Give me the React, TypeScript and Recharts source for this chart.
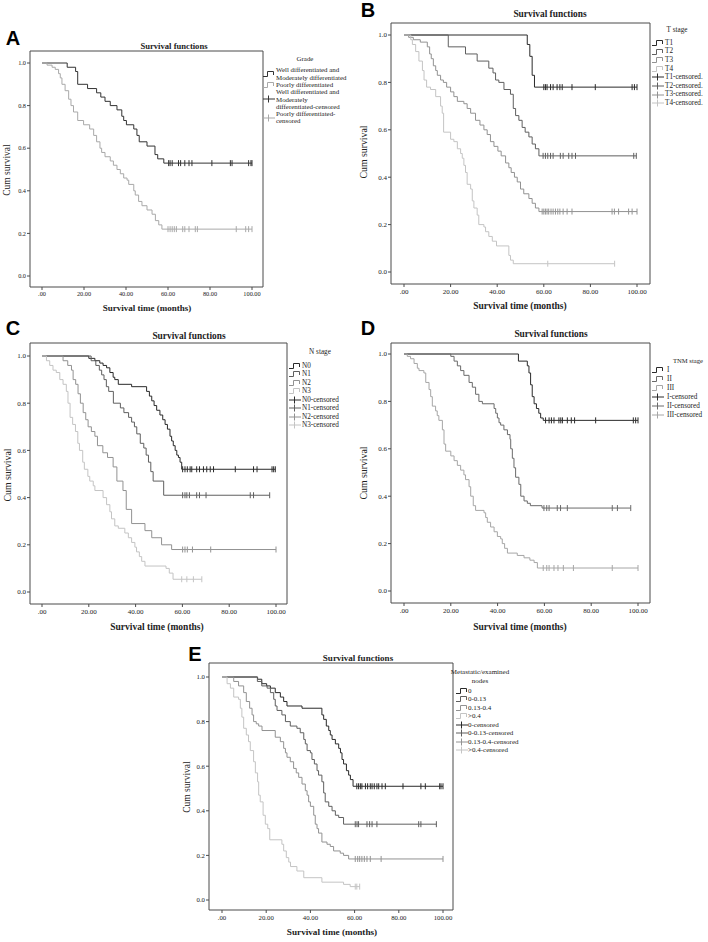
import React from 'react';
import { LineChart, Line, XAxis, YAxis, ReferenceArea } from 'recharts';

// ---------- Panel A: Grade ----------
const gradeNames = ['Well differentiated and Moderately differentiated', 'Poorly differentiated'];
const gradeWellT = [0, 12, 16, 17, 21.7, 26, 28, 30, 32.5, 35.7, 38, 38.9, 40.2, 43.7, 45.2, 46.3, 50, 53.8, 55.1, 58];
const gradeWellS = [1, 0.98, 0.96, 0.9, 0.88, 0.86, 0.84, 0.82, 0.8, 0.78, 0.75, 0.73, 0.71, 0.69, 0.66, 0.63, 0.61, 0.57, 0.55, 0.53];
const gradeWellCens = [60.3, 61, 62, 65, 66, 68, 70, 71.4, 80.9, 89.7, 90.5, 98.4, 99.5, 100];
const gradePoorT = [0, 2.4, 4.8, 6.3, 7.9, 8.7, 9.5, 11, 12.7, 13.8, 15, 17, 19.8, 22.7, 24.6, 26, 27.6, 28.4, 30, 32.5, 34, 35.7, 37.3, 38.9, 40.5, 41.3, 43.7, 44.4, 46, 47.6, 50, 52.4, 54, 55.6, 57.1];
const gradePoorS = [1, 0.99, 0.98, 0.97, 0.95, 0.93, 0.9, 0.87, 0.83, 0.8, 0.77, 0.73, 0.71, 0.69, 0.66, 0.63, 0.6, 0.58, 0.56, 0.54, 0.52, 0.5, 0.48, 0.46, 0.45, 0.43, 0.4, 0.38, 0.35, 0.33, 0.31, 0.29, 0.26, 0.24, 0.22];
const gradePoorCens = [60, 61, 62, 63, 64, 67, 68, 70, 73, 74, 92.5, 97, 98.4, 100];
const gradeLegend = [
  ['Well differentiated and', 'Moderately differentiated'],
  ['Poorly differentiated'],
  ['Well differentiated and', 'Moderately', 'differentiated-censored'],
  ['Poorly differentiated-', 'censored'],
];

// ---------- Panel B: T stage ----------
const tNames = ['T1', 'T2', 'T3', 'T4'];
const t1T = [0, 52.9, 54, 55, 56];
const t1S = [1, 0.96, 0.91, 0.83, 0.78];
const t1Cens = [60, 60.7, 61.4, 62.9, 64, 65.7, 66.9, 67.9, 72.1, 82.1, 97.9, 98.9, 100];
const t2T = [0, 19, 26.4, 31.4, 36.4, 38.2, 39.3, 40.7, 42.9, 45.7, 46.9, 47.9, 49.3, 50.7, 52, 53.6, 55, 56.4, 57.9];
const t2S = [1, 0.95, 0.92, 0.89, 0.86, 0.84, 0.81, 0.8, 0.77, 0.75, 0.69, 0.66, 0.64, 0.61, 0.59, 0.57, 0.54, 0.52, 0.49];
const t2Cens = [59.7, 60.7, 61.7, 62.9, 64, 67.1, 68.3, 70.7, 72.1, 73.6, 98.6, 99.7];
const t3T = [0, 2, 4, 7, 10, 11, 11.7, 12.6, 13.6, 14.3, 15.7, 16.9, 18.3, 20, 21.4, 22.9, 25.7, 27.1, 28.6, 30.7, 32.6, 34.3, 35.7, 37.1, 38.6, 40.3, 41.7, 43.6, 45, 46, 47.4, 48.6, 50, 51.4, 53.6, 55, 56.4, 57.9];
const t3S = [1, 0.99, 0.98, 0.97, 0.95, 0.92, 0.9, 0.87, 0.85, 0.83, 0.81, 0.8, 0.78, 0.76, 0.74, 0.72, 0.71, 0.69, 0.67, 0.64, 0.62, 0.6, 0.58, 0.55, 0.53, 0.51, 0.49, 0.46, 0.44, 0.42, 0.4, 0.38, 0.35, 0.33, 0.31, 0.29, 0.27, 0.255];
const t3Cens = [59.3, 60, 60.7, 61.4, 62.1, 63.1, 64, 65, 66, 66.9, 68.3, 70, 72.1, 89.3, 90.3, 92.1, 96.4, 97.9, 100];
const t4T = [0, 2.9, 3.6, 5, 6.4, 7.9, 8.6, 9.7, 11.4, 13.6, 15.7, 16.4, 17, 20, 21.4, 22.9, 24.3, 25, 25.7, 26.4, 27.1, 28.6, 29.3, 30, 31.4, 32.1, 34.3, 35, 36.4, 37.9, 39.7, 45, 45.7, 46.9];
const t4S = [1, 0.98, 0.96, 0.93, 0.89, 0.85, 0.81, 0.78, 0.77, 0.74, 0.7, 0.67, 0.59, 0.56, 0.55, 0.52, 0.5, 0.48, 0.45, 0.42, 0.37, 0.35, 0.3, 0.27, 0.24, 0.2, 0.19, 0.17, 0.15, 0.13, 0.11, 0.07, 0.05, 0.035];
const t4Cens = [61.7, 90.4];
const tLegend = [['T1'], ['T2'], ['T3'], ['T4'], ['T1-censored.'], ['T2-censored.'], ['T3-censored.'], ['T4-censored.']];

// ---------- Panel C: N stage ----------
const nNames = ['N0', 'N1', 'N2', 'N3'];
const n0T = [0, 20, 22.6, 24.7, 26.1, 27.6, 29, 30.4, 31.1, 32.6, 38.3, 44.7, 45.9, 46.9, 47.9, 49, 50.4, 51.6, 52.6, 53.6, 54.7, 55.4, 56.1, 56.9, 57.6, 58.3, 59, 59.7];
const n0S = [1, 0.99, 0.98, 0.97, 0.96, 0.95, 0.93, 0.91, 0.9, 0.88, 0.87, 0.85, 0.83, 0.81, 0.79, 0.77, 0.75, 0.73, 0.71, 0.69, 0.66, 0.64, 0.62, 0.6, 0.58, 0.57, 0.55, 0.52];
const n0Cens = [60.1, 61.1, 62.1, 63.3, 64, 66.1, 67.3, 69, 70.4, 71.9, 73.3, 82.6, 90.4, 91.9, 98.3, 99, 99.7];
const n1T = [0, 21, 23, 24.5, 25.5, 26.5, 27.5, 28.5, 30.5, 33.5, 35, 37, 38.3, 39.5, 40.5, 42, 43.5, 44.5, 45.5, 46.5, 47.5, 52];
const n1S = [1, 0.98, 0.96, 0.94, 0.92, 0.9, 0.87, 0.85, 0.8, 0.78, 0.76, 0.74, 0.72, 0.7, 0.67, 0.63, 0.61, 0.58, 0.55, 0.51, 0.47, 0.41];
const n1Cens = [60.1, 61.1, 61.9, 63, 66.1, 67.3, 70.1, 89, 90.4, 97.3];
const n2T = [0, 9, 11, 12.6, 13.3, 14.4, 15.4, 16.4, 17.6, 18.7, 19.7, 21.1, 22.6, 23.7, 26, 28, 30.4, 32, 34.6, 36, 38.3, 44, 46.9, 51.1, 55.4];
const n2S = [1, 0.98, 0.96, 0.94, 0.9, 0.88, 0.84, 0.8, 0.76, 0.73, 0.7, 0.68, 0.66, 0.62, 0.59, 0.57, 0.53, 0.47, 0.43, 0.35, 0.29, 0.26, 0.23, 0.2, 0.18];
const n2Cens = [60.1, 61.1, 62.1, 64.3, 72.1, 100];
const n3T = [0, 1.9, 3.3, 4.7, 6.1, 7.6, 9, 10.4, 11.1, 12, 13.1, 14.3, 15.3, 16, 17.4, 18.1, 19.6, 20.4, 21.9, 22.6, 26.1, 27.6, 29, 29.7, 31.1, 32.6, 35.4, 36.9, 38.3, 39.7, 40.4, 41.6, 42.6, 44, 53, 54.4, 56];
const n3S = [1, 0.98, 0.96, 0.94, 0.93, 0.9, 0.88, 0.85, 0.8, 0.74, 0.71, 0.68, 0.63, 0.6, 0.55, 0.52, 0.49, 0.47, 0.45, 0.43, 0.4, 0.37, 0.34, 0.31, 0.28, 0.27, 0.25, 0.23, 0.21, 0.19, 0.17, 0.15, 0.13, 0.11, 0.1, 0.08, 0.054];
const n3Cens = [59.7, 61.9, 64.7, 68.3];
const nLegend = [['N0'], ['N1'], ['N2'], ['N3'], ['N0-censored'], ['N1-censored'], ['N2-censored'], ['N3-censored']];

// ---------- Panel D: TNM stage ----------
const tnmNames = ['I', 'II', 'III'];
const s1T = [0, 48.9, 52.7, 53.4, 54.1, 54.8, 55.6, 56.6, 57.6, 58.4, 59.5];
const s1S = [1, 0.97, 0.95, 0.92, 0.87, 0.82, 0.79, 0.77, 0.75, 0.73, 0.72];
const s1Cens = [60.5, 62, 63, 64.1, 66.2, 67, 67.7, 69.8, 71.5, 72.9, 81.9, 98, 99, 100];
const s2T = [0, 20, 21.4, 22.8, 24.2, 25.6, 27.8, 29.2, 30.6, 32, 33.5, 38.5, 39.2, 39.9, 40.6, 41.3, 42.7, 44.2, 45.3, 45.6, 46.3, 47, 47.7, 49.1, 49.9, 51.3, 52.7, 54, 59];
const s2S = [1, 0.99, 0.97, 0.95, 0.93, 0.91, 0.88, 0.86, 0.83, 0.8, 0.79, 0.77, 0.75, 0.73, 0.71, 0.7, 0.68, 0.66, 0.64, 0.6, 0.56, 0.52, 0.48, 0.45, 0.4, 0.38, 0.37, 0.36, 0.35];
const s2Cens = [59.8, 61, 62, 65.5, 66.9, 69.8, 89, 91.2, 96.9];
const s3T = [0, 1.4, 2.8, 4.3, 5.7, 6.4, 8.5, 9.3, 10.7, 11.4, 12.1, 13.5, 14.2, 14.9, 16.4, 17.1, 17.8, 20, 21.4, 22.8, 24.2, 25.6, 26.3, 27.8, 28.5, 29.6, 30.6, 34.2, 34.9, 35.6, 37, 38.5, 39.9, 41.3, 42, 43, 44.2, 48.4, 51.3, 53.8, 55.6, 57];
const s3S = [1, 0.99, 0.98, 0.96, 0.94, 0.93, 0.92, 0.88, 0.85, 0.82, 0.78, 0.76, 0.74, 0.72, 0.68, 0.62, 0.59, 0.57, 0.55, 0.53, 0.51, 0.49, 0.47, 0.44, 0.4, 0.36, 0.34, 0.33, 0.31, 0.29, 0.27, 0.25, 0.23, 0.22, 0.2, 0.18, 0.16, 0.15, 0.14, 0.13, 0.12, 0.097];
const s3Cens = [59.5, 61, 62, 64.1, 65.8, 68.1, 72.4, 89, 100];
const tnmLegend = [['I'], ['II'], ['III'], ['I-censored'], ['II-censored'], ['III-censored']];

// ---------- Panel E: Metastatic/examined nodes ----------
const ratioNames = ['0', '0-0.13', '0.13-0.4', '>0.4'];
const r0T = [0, 16.1, 18, 20.2, 21.9, 24.1, 26.4, 27.9, 29.4, 36.2, 45.2, 46, 47.2, 48.3, 49, 49.8, 51.3, 52.8, 53.6, 54.3, 55, 56.3, 57.3, 58.1, 59.3];
const r0S = [1, 0.99, 0.97, 0.96, 0.95, 0.93, 0.91, 0.89, 0.87, 0.86, 0.83, 0.81, 0.78, 0.76, 0.74, 0.72, 0.7, 0.68, 0.66, 0.63, 0.61, 0.58, 0.56, 0.54, 0.51];
const r0Cens = [61, 61.8, 62.6, 63.3, 64.9, 65.9, 67.1, 67.9, 68.9, 70.1, 70.9, 72.4, 73.9, 81.9, 90, 92, 98.5, 99.1, 100];
const r1T = [0, 16, 18, 20.4, 21.9, 23.4, 24.1, 24.9, 27.1, 28.7, 30.9, 33.9, 35.4, 37, 37.7, 38.5, 40, 40.7, 41.8, 43, 43.7, 45.2, 46, 46.7, 48.3, 49.8, 51.3, 52.8, 55];
const r1S = [1, 0.98, 0.96, 0.95, 0.93, 0.9, 0.87, 0.85, 0.83, 0.8, 0.78, 0.77, 0.75, 0.72, 0.7, 0.67, 0.66, 0.63, 0.61, 0.58, 0.56, 0.53, 0.48, 0.44, 0.42, 0.4, 0.38, 0.37, 0.34];
const r1Cens = [60.3, 61.1, 61.8, 65.6, 66.8, 67.9, 70.1, 89, 90, 97];
const r2T = [0, 5.3, 7.5, 9.8, 11, 12.5, 13.6, 14.3, 15.5, 16.6, 18.1, 24.1, 26.4, 27.9, 28.7, 29.4, 30.9, 32.4, 33.6, 34.7, 36.2, 37.7, 38.5, 39.2, 40, 41.5, 42.2, 43, 43.7, 45.2, 47.5, 49, 50.5, 53.5, 55, 57.3];
const r2S = [1, 0.98, 0.96, 0.93, 0.89, 0.86, 0.83, 0.8, 0.79, 0.78, 0.76, 0.73, 0.71, 0.68, 0.66, 0.64, 0.62, 0.59, 0.57, 0.55, 0.52, 0.49, 0.47, 0.44, 0.42, 0.38, 0.34, 0.32, 0.3, 0.26, 0.25, 0.24, 0.22, 0.21, 0.2, 0.184];
const r2Cens = [60.3, 61.4, 62.3, 63.3, 64.4, 65.6, 67.1, 72, 100];
const r3T = [0, 2.3, 3.8, 5.3, 7.5, 8.3, 9, 9.8, 11, 12, 12.8, 14.3, 15.1, 16.1, 16.6, 17.3, 18.6, 19.6, 20.7, 21.6, 27.1, 27.9, 29.1, 30.2, 31, 33.9, 37, 45.2, 55, 58];
const r3S = [1, 0.97, 0.95, 0.91, 0.9, 0.86, 0.82, 0.77, 0.74, 0.71, 0.67, 0.62, 0.57, 0.53, 0.47, 0.44, 0.38, 0.34, 0.32, 0.27, 0.25, 0.22, 0.19, 0.17, 0.15, 0.13, 0.1, 0.08, 0.07, 0.06];
const r3Cens = [60.3, 61, 62.3];
const ratioLegend = [['0'], ['0-0.13'], ['0.13-0.4'], ['>0.4'], ['0-censored'], ['0-0.13-censored'], ['0.13-0.4-censored'], ['>0.4-censored']];

// ---------- Axis ticks ----------
const xTicks = [0, 20, 40, 60, 80, 100];
const yTicks = [0, 0.2, 0.4, 0.6, 0.8, 1.0];

const SERIF = '"Liberation Serif", "Times New Roman", serif';
const SANS = '"Liberation Sans", Arial, sans-serif';
const INK = '#222';
const AXIS = '#4a4a4a';

const GREY4 = ['#2a2a2a', '#5f5f5f', '#929292', '#c4c4c4'];
const GREY3 = ['#2a2a2a', '#6a6a6a', '#a6a6a6'];
const GREY2 = ['#333333', '#a9a9a9'];

type Curve = { t: number[]; s: number[]; cens: number[]; color: string };

function buildPoints(c: Curve) {
  const pts = c.t.map((t, i) => ({ t, s: c.s[i], c: false }));
  const sAt = (x: number) => {
    let v = c.s[0];
    for (let i = 0; i < c.t.length; i++) if (c.t[i] <= x) v = c.s[i];
    return v;
  };
  c.cens.forEach((x) => pts.push({ t: x, s: sAt(x), c: true }));
  pts.sort((a, b) => a.t - b.t);
  return pts;
}

const fmtX = (v: number) => (v === 0 ? '.00' : v.toFixed(2));
const fmtY = (v: number) => v.toFixed(1);

function makeDot(color: string) {
  return (props: any) => {
    const { cx, cy, payload, index } = props;
    if (!payload || !payload.c || cx == null || cy == null) return <g key={`n${index}`} />;
    return <line key={`c${index}`} x1={cx} x2={cx} y1={cy - 3} y2={cy + 3} stroke={color} strokeWidth={1} />;
  };
}

type Box = { L: number; T: number; R: number; B: number };
type Px = { x0: number; x100: number; y1: number; y0: number };

function KMChart({ box, px, curves, tickFont }: { box: Box; px: Px; curves: Curve[]; tickFont: number }) {
  const { L, T, R, B } = box;
  const xmin = ((L - px.x0) / (px.x100 - px.x0)) * 100;
  const xmax = ((R - px.x0) / (px.x100 - px.x0)) * 100;
  const ymax = 1 + (px.y1 - T) / (px.y0 - px.y1);
  const ymin = -(B - px.y0) / (px.y0 - px.y1);
  const padL = 40, padT = 4, padR = 4, axH = 24;
  const tickStyle = { fontSize: tickFont, fontFamily: SERIF, fill: INK };
  return (
    <div style={{ position: 'absolute', left: L - padL, top: T - padT }}>
      <LineChart width={R - L + padL + padR} height={B - T + padT + axH} margin={{ top: padT, right: padR, bottom: 0, left: 0 }}>
        <XAxis type="number" dataKey="t" domain={[xmin, xmax]} allowDataOverflow ticks={xTicks} interval={0}
          tickFormatter={fmtX} height={axH} tickSize={3} tickMargin={2} axisLine={false}
          tickLine={{ stroke: AXIS }} tick={tickStyle} />
        <YAxis type="number" domain={[ymin, ymax]} allowDataOverflow ticks={yTicks} interval={0}
          tickFormatter={fmtY} width={padL} tickSize={3} tickMargin={1} axisLine={false}
          tickLine={{ stroke: AXIS }} tick={tickStyle} />
        <ReferenceArea x1={xmin} x2={xmax} y1={ymin} y2={ymax} fill="none" stroke={AXIS} strokeWidth={1} ifOverflow="visible" />
        {curves.map((c, i) => (
          <Line key={i} data={buildPoints(c)} dataKey="s" type="stepAfter" stroke={c.color} strokeWidth={1}
            dot={makeDot(c.color)} activeDot={false} isAnimationActive={false} legendType="none" />
        ))}
      </LineChart>
    </div>
  );
}

function Txt({ x, y, children, size, bold, family, rotate, color }: any) {
  return (
    <div style={{
      position: 'absolute', left: x, top: y, transform: `translate(-50%, -50%)${rotate ? ' rotate(-90deg)' : ''}`,
      whiteSpace: 'nowrap', fontSize: size, lineHeight: 1, fontWeight: bold ? 'bold' : 'normal',
      fontFamily: family || SERIF, color: color || INK,
    }}>{children}</div>
  );
}

function Sym({ kind, color }: { kind: 'curve' | 'cens'; color: string }) {
  return (
    <svg width={12} height={8} style={{ display: 'block' }}>
      {kind === 'curve' ? (
        <path d="M0,6.5 H4.5 V1.5 H10.5 V5" fill="none" stroke={color} strokeWidth={1} />
      ) : (
        <g stroke={color} strokeWidth={1}>
          <line x1={0} x2={12} y1={4} y2={4} />
          <line x1={5.5} x2={5.5} y1={0.5} y2={7.5} />
        </g>
      )}
    </svg>
  );
}

function KMLegend({ symX, textX, top, lineH, labels, colors, size }: any) {
  const n = colors.length;
  let y = top;
  const rows = labels.map((lines: string[], i: number) => {
    const h = lines.length * lineH;
    const kind = i < n ? 'curve' : 'cens';
    const color = colors[i % n];
    const row = (
      <React.Fragment key={i}>
        <div style={{ position: 'absolute', left: symX, top: y + h / 2 - 4 }}>
          <Sym kind={kind} color={color} />
        </div>
        <div style={{ position: 'absolute', left: textX, top: y, fontSize: size, lineHeight: `${lineH}px`, fontFamily: SERIF, color: INK, whiteSpace: 'nowrap' }}>
          {lines.map((l, k) => <div key={k}>{l}</div>)}
        </div>
      </React.Fragment>
    );
    y += h;
    return row;
  });
  return <>{rows}</>;
}

export default function App() {
  const gradeCurves: Curve[] = [
    { t: gradeWellT, s: gradeWellS, cens: gradeWellCens, color: GREY2[0] },
    { t: gradePoorT, s: gradePoorS, cens: gradePoorCens, color: GREY2[1] },
  ];
  const tCurves: Curve[] = [
    { t: t1T, s: t1S, cens: t1Cens, color: GREY4[0] },
    { t: t2T, s: t2S, cens: t2Cens, color: GREY4[1] },
    { t: t3T, s: t3S, cens: t3Cens, color: GREY4[2] },
    { t: t4T, s: t4S, cens: t4Cens, color: GREY4[3] },
  ];
  const nCurves: Curve[] = [
    { t: n0T, s: n0S, cens: n0Cens, color: GREY4[0] },
    { t: n1T, s: n1S, cens: n1Cens, color: GREY4[1] },
    { t: n2T, s: n2S, cens: n2Cens, color: GREY4[2] },
    { t: n3T, s: n3S, cens: n3Cens, color: GREY4[3] },
  ];
  const tnmCurves: Curve[] = [
    { t: s1T, s: s1S, cens: s1Cens, color: GREY3[0] },
    { t: s2T, s: s2S, cens: s2Cens, color: GREY3[1] },
    { t: s3T, s: s3S, cens: s3Cens, color: GREY3[2] },
  ];
  const ratioCurves: Curve[] = [
    { t: r0T, s: r0S, cens: r0Cens, color: GREY4[0] },
    { t: r1T, s: r1S, cens: r1Cens, color: GREY4[1] },
    { t: r2T, s: r2S, cens: r2Cens, color: GREY4[2] },
    { t: r3T, s: r3S, cens: r3Cens, color: GREY4[3] },
  ];
  void gradeNames; void tNames; void nNames; void tnmNames; void ratioNames;

  return (
    <div style={{ position: 'absolute', left: 0, top: 0, width: 708, height: 942, background: '#fff', overflow: 'hidden' }}>
      {/* Panel A */}
      <Txt x={13} y={38} size={20} bold family={SANS} color="#000">A</Txt>
      <Txt x={174} y={46} size={8.6} bold>Survival functions</Txt>
      <KMChart box={{ L: 30, T: 51, R: 263, B: 287 }} px={{ x0: 42, x100: 252, y1: 63, y0: 276 }} curves={gradeCurves} tickFont={6.3} />
      <Txt x={8} y={170} size={9.5} rotate>Cum survival</Txt>
      <Txt x={147} y={308} size={9} bold>Survival time (months)</Txt>
      <Txt x={305} y={59} size={6.9}>Grade</Txt>
      <KMLegend symX={263} textX={276} top={66.4} lineH={7.3} labels={gradeLegend} colors={GREY2} size={6.9} />

      {/* Panel B */}
      <Txt x={368} y={10} size={20} bold family={SANS} color="#000">B</Txt>
      <Txt x={550} y={15} size={9.4} bold>Survival functions</Txt>
      <KMChart box={{ L: 391, T: 23, R: 650, B: 284 }} px={{ x0: 404, x100: 637, y1: 35, y0: 272 }} curves={tCurves} tickFont={7} />
      <Txt x={364} y={152} size={9.8} rotate>Cum survival</Txt>
      <Txt x={520} y={307} size={9.5} bold>Survival time (months)</Txt>
      <Txt x={677} y={31} size={7.2}>T stage</Txt>
      <KMLegend symX={652} textX={665} top={38.7} lineH={8.6} labels={tLegend} colors={GREY4} size={7.2} />

      {/* Panel C */}
      <Txt x={13} y={328} size={20} bold family={SANS} color="#000">C</Txt>
      <Txt x={189} y={337} size={9.4} bold>Survival functions</Txt>
      <KMChart box={{ L: 30, T: 343, R: 287, B: 604 }} px={{ x0: 42, x100: 276, y1: 356, y0: 592 }} curves={nCurves} tickFont={7} />
      <Txt x={8} y={475} size={9.8} rotate>Cum survival</Txt>
      <Txt x={157} y={628} size={9.5} bold>Survival time (months)</Txt>
      <Txt x={320} y={353} size={7.2}>N stage</Txt>
      <KMLegend symX={289} textX={302} top={361.7} lineH={8.5} labels={nLegend} colors={GREY4} size={7.2} />

      {/* Panel D */}
      <Txt x={368} y={328} size={20} bold family={SANS} color="#000">D</Txt>
      <Txt x={551} y={335} size={9.4} bold>Survival functions</Txt>
      <KMChart box={{ L: 391, T: 343, R: 650, B: 603 }} px={{ x0: 404, x100: 638, y1: 354, y0: 591 }} curves={tnmCurves} tickFont={7} />
      <Txt x={364} y={473} size={9.8} rotate>Cum survival</Txt>
      <Txt x={520} y={628} size={9.5} bold>Survival time (months)</Txt>
      <Txt x={688} y={361} size={6.6}>TNM stage</Txt>
      <KMLegend symX={652} textX={667} top={365.5} lineH={9} labels={tnmLegend} colors={GREY3} size={7.2} />

      {/* Panel E */}
      <Txt x={195} y={654} size={20} bold family={SANS} color="#000">E</Txt>
      <Txt x={358} y={658} size={9} bold>Survival functions</Txt>
      <KMChart box={{ L: 209, T: 663, R: 453, B: 910 }} px={{ x0: 222, x100: 443, y1: 677, y0: 900 }} curves={ratioCurves} tickFont={6.8} />
      <Txt x={188} y={787} size={9.5} rotate>Cum survival</Txt>
      <Txt x={332} y={933} size={9.2} bold>Survival time (months)</Txt>
      <Txt x={480} y={672} size={7}>Metastatic/examined</Txt>
      <Txt x={480} y={681} size={7}>nodes</Txt>
      <KMLegend symX={456} textX={468} top={686.7} lineH={8.5} labels={ratioLegend} colors={GREY4} size={7} />
    </div>
  );
}
